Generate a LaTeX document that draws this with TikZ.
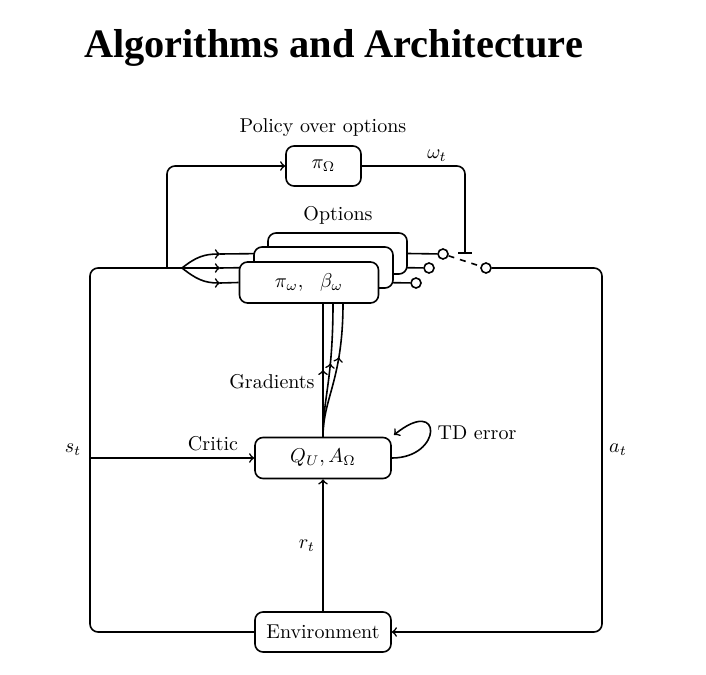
\documentclass[tikz,border=0pt]{standalone}
\usepackage{fontspec}
\newfontfamily\titlefont{Liberation Serif}
\usetikzlibrary{decorations.markings}
\pgfdeclarelayer{background}
\pgfsetlayers{background,main}
\begin{document}
\begin{tikzpicture}[x=0.5pt,y=-0.5pt,
  conn/.style={draw, line width=0.8pt},
  box/.style={draw, rounded corners=4pt, fill=white, inner sep=0pt, line width=0.8pt},
  lbl/.style={inner sep=0pt},
  port/.style={circle, draw, fill=white, minimum size=5pt, inner sep=0pt, line width=0.8pt},
  midarrow/.style={postaction={decorate}, decoration={markings, mark=at position #1 with {\arrow{>}}}},
  rc/.style={rounded corners=4pt}]
\useasboundingbox (0,0) rectangle (706,674);

% title
\node[lbl, anchor=base, font=\titlefont\bfseries\fontsize{20.2}{24}\selectfont] (title) at (333.5,57.5) {Algorithms and Architecture};

% main nodes
\node[box, minimum width=37.5pt, minimum height=20pt] (pi) at (323.5,166) {$\pi_\Omega$};
\node[box, minimum width=68pt, minimum height=20.5pt] (q) at (323,458) {$Q_U, A_\Omega$};
\node[box, minimum width=68pt, minimum height=20pt] (env) at (323,632) {Environment};

% option boxes (stacked)
\node[box, minimum width=69.5pt, minimum height=20.5pt] (back) at (337.5,253.5) {};
\node[box, minimum width=69.5pt, minimum height=20.5pt] (mid) at (323.5,267.5) {};
\node[box, minimum width=69.5pt, minimum height=20.5pt] (front) at (309,282.5) {$\pi_\omega,\ \ \beta_\omega$};

% ports
\node[port] (p1) at (443,254) {};
\node[port] (p2) at (429,268) {};
\node[port] (p3) at (416,283) {};
\node[port] (ps) at (486,268) {};

% coordinates
\coordinate (split) at (182,268);
\coordinate (lc) at (90,268);
\coordinate (sb) at (90,458);
\coordinate (pb) at (167,268);
\coordinate (a1) at (220,254);
\coordinate (a2) at (220,268);
\coordinate (a3) at (220,283);
\coordinate (rc1) at (602,268);
\coordinate (wbar) at (465,253);
\coordinate (wbl) at (458,253);
\coordinate (wbr) at (472,253);
\coordinate (g1) at (323,303);
\coordinate (g2) at (333,303);
\coordinate (g3) at (343,303);
\coordinate (tdend) at (394,435);

\begin{pgfonlayer}{background}
  % left loop
  \draw[conn, rc] (env.west) -| (lc) -- (split);
  \draw[conn, ->] (sb) -- (q.west);
  \draw[conn, ->, rc] (pb) |- (pi.west);
  % split into options
  \draw[conn, ->] (split) .. controls (196,257) and (204,254) .. (a1);
  \draw[conn, ->] (split) -- (a2);
  \draw[conn, ->] (split) .. controls (196,279) and (204,283) .. (a3);
  \draw[conn] (a1) -- (back.west);
  \draw[conn] (a2) -- (mid.west);
  \draw[conn] (a3) -- (front.west);
  % option outputs
  \draw[conn] (back.east) -- (p1);
  \draw[conn] (mid.east) -- (p2);
  \draw[conn] (front.east) -- (p3);
  % switch
  \draw[conn, dash pattern=on 3pt off 3pt] (p1) -- (ps);
  % omega_t
  \draw[conn, rc] (pi.east) -| (wbar);
  \draw[conn] (wbl) -- (wbr);
  % right loop
  \draw[conn, ->, rc] (ps) -- (rc1) |- (env.east);
  % reward
  \draw[conn, ->] (env.north) -- (q.south);
  % gradients
  \draw[conn, midarrow=0.5] (q.north) -- (g1);
  \draw[conn, midarrow=0.55] (q.north) .. controls (323,398) and (333,380) .. (g2);
  \draw[conn, midarrow=0.6] (q.north) .. controls (323,398) and (343,380) .. (g3);
\end{pgfonlayer}

% TD error loop
\draw[conn, ->] (q.east) .. controls (443,458) and (443,395) .. (tdend);

% labels
\node[lbl] (lpol) at (323,128) {Policy over options};
\node[lbl] (lw) at (437,156) {$\omega_t$};
\node[lbl] (lopt) at (338,215) {Options};
\node[lbl, anchor=east] (lgrad) at (315,382) {Gradients};
\node[lbl] (lcrit) at (213,444) {Critic};
\node[lbl] (ltd) at (477,433) {TD error};
\node[lbl] (lst) at (73,450) {$s_t$};
\node[lbl] (lat) at (618,450) {$a_t$};
\node[lbl] (lrt) at (307,546) {$r_t$};
\end{tikzpicture}
\end{document}
